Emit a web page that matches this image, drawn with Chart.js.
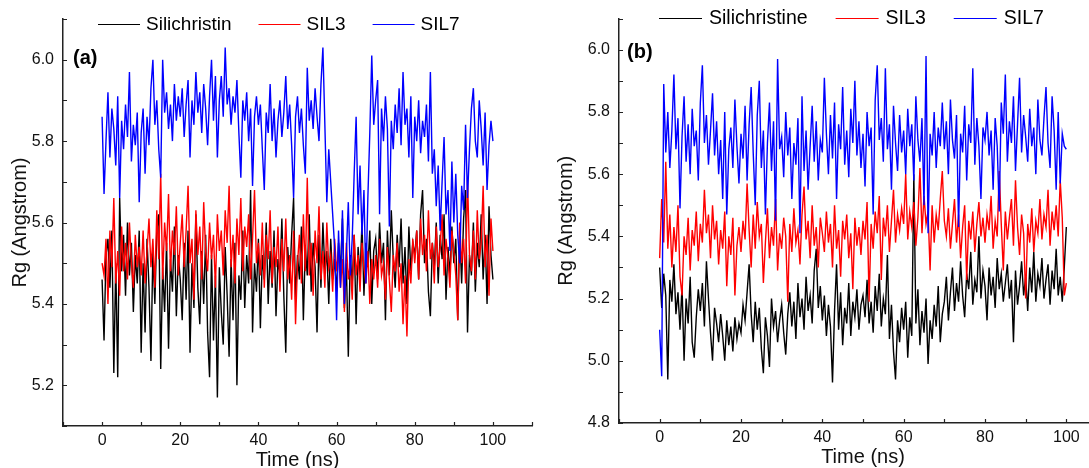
<!DOCTYPE html>
<html>
<head>
<meta charset="utf-8">
<script src="https://cdn.jsdelivr.net/npm/chart.js@4.4.1/dist/chart.umd.min.js"></script>
<style>
  html, body { margin: 0; padding: 0; background: #fff; }
  #wrap { position: relative; width: 1089px; height: 468px; overflow: hidden; }
  canvas { position: absolute; top: 0; }
</style>
</head>
<body>
<div id="wrap">
  <canvas id="chartA" width="545" height="480" style="left:0px"></canvas>
  <canvas id="chartB" width="580" height="480" style="left:545px"></canvas>
</div>
<script>
const silA = [
  5.46, 5.31, 5.52, 5.56, 5.44, 5.58, 5.23, 5.50, 5.22, 5.66, 5.48, 5.57, 5.42, 5.60, 5.47, 5.55, 5.38, 5.52, 5.45, 5.58,
  5.28, 5.50, 5.33, 5.56, 5.44, 5.26, 5.53, 5.40, 5.58, 5.62, 5.24, 5.49, 5.38, 5.55, 5.29, 5.51, 5.43, 5.59, 5.37, 5.52,
  5.46, 5.36, 5.55, 5.41, 5.58, 5.28, 5.50, 5.39, 5.62, 5.44, 5.35, 5.53, 5.40, 5.57, 5.33, 5.22, 5.52, 5.31, 5.47, 5.17,
  5.49, 5.38, 5.30, 5.54, 5.42, 5.27, 5.51, 5.36, 5.55, 5.20, 5.47, 5.41, 5.58, 5.39, 5.52, 5.45, 5.68, 5.33, 5.50, 5.43,
  5.56, 5.34, 5.52, 5.46, 5.60, 5.40, 5.53, 5.44, 5.58, 5.37, 5.51, 5.47, 5.61, 5.42, 5.28, 5.54, 5.45, 5.57, 5.66, 5.41,
  5.52, 5.46, 5.59, 5.36, 5.54, 5.47, 5.62, 5.43, 5.55, 5.49, 5.33, 5.57, 5.44, 5.60, 5.48, 5.53, 5.40, 5.56, 5.46, 5.51,
  5.43, 5.55, 5.48, 5.61, 5.39, 5.50, 5.27, 5.52, 5.45, 5.57, 5.35, 5.54, 5.47, 5.60, 5.42, 5.55, 5.49, 5.58, 5.40, 5.53,
  5.56, 5.46, 5.60, 5.50, 5.55, 5.36, 5.58, 5.47, 5.63, 5.51, 5.44, 5.57, 5.49, 5.61, 5.45, 5.54, 5.40, 5.59, 5.48, 5.55,
  5.52, 5.58, 5.46, 5.62, 5.68, 5.50, 5.56, 5.43, 5.37, 5.55, 5.49, 5.60, 5.45, 5.57, 5.51, 5.62, 5.41, 5.54, 5.47, 5.59,
  5.50, 5.56, 5.36, 5.58, 5.45, 5.61, 5.68, 5.33, 5.52, 5.47, 5.60, 5.43, 5.55, 5.49, 5.62, 5.46, 5.57, 5.40, 5.64, 5.52,
  5.46
];
const sil3A = [
  5.50, 5.47, 5.56, 5.40, 5.58, 5.49, 5.66, 5.45, 5.53, 5.42, 5.59, 5.48, 5.55, 5.46, 5.60, 5.50, 5.44, 5.57, 5.49, 5.54,
  5.47, 5.58, 5.45, 5.53, 5.61, 5.49, 5.56, 5.44, 5.63, 5.51, 5.72, 5.46, 5.60, 5.53, 5.67, 5.48, 5.58, 5.52, 5.64, 5.47,
  5.55, 5.62, 5.49, 5.58, 5.69, 5.50, 5.56, 5.41, 5.63, 5.52, 5.59, 5.46, 5.65, 5.53, 5.48, 5.60, 5.51, 5.57, 5.44, 5.62,
  5.53, 5.58, 5.47, 5.63, 5.55, 5.69, 5.49, 5.57, 5.45, 5.61, 5.52, 5.66, 5.48, 5.59, 5.54, 5.62, 5.46, 5.56, 5.68, 5.50,
  5.55, 5.47, 5.60, 5.44, 5.57, 5.51, 5.63, 5.45, 5.54, 5.49, 5.59, 5.43, 5.56, 5.48, 5.61, 5.46, 5.52, 5.41, 5.58, 5.35,
  5.50, 5.57, 5.45, 5.62, 5.48, 5.71, 5.47, 5.55, 5.42, 5.58, 5.50, 5.64, 5.46, 5.53, 5.44, 5.60, 5.49, 5.52, 5.43, 5.56,
  5.48, 5.53, 5.44, 5.51, 5.38, 5.55, 5.46, 5.50, 5.41, 5.57, 5.47, 5.52, 5.43, 5.55, 5.49, 5.45, 5.53, 5.40, 5.51, 5.46,
  5.52, 5.44, 5.56, 5.47, 5.50, 5.41, 5.54, 5.46, 5.38, 5.52, 5.48, 5.55, 5.43, 5.50, 5.35, 5.47, 5.32, 5.51, 5.45, 5.56,
  5.50, 5.58, 5.46, 5.61, 5.52, 5.57, 5.48, 5.63, 5.51, 5.55, 5.45, 5.59, 5.49, 5.54, 5.62, 5.47, 5.56, 5.51, 5.44, 5.58,
  5.53, 5.47, 5.36, 5.60, 5.50, 5.56, 5.45, 5.71, 5.52, 5.48, 5.58, 5.46, 5.63, 5.51, 5.55, 5.69, 5.49, 5.57, 5.42, 5.61,
  5.53
];
const sil7A = [
  5.86, 5.67, 5.80, 5.92, 5.76, 5.88, 5.83, 5.74, 5.91, 5.66, 5.85, 5.78, 5.89, 5.81, 5.97, 5.75, 5.84, 5.79, 5.87, 5.65,
  5.82, 5.88, 5.72, 5.86, 5.79, 5.93, 6.00, 5.84, 5.90, 5.78, 5.71, 6.00, 5.87, 5.92, 5.83, 5.89, 5.80, 5.94, 5.85, 5.91,
  5.86, 5.93, 5.81, 5.89, 5.95, 5.76, 5.90, 5.84, 5.97, 5.87, 5.92, 5.82, 5.94, 5.88, 5.79, 5.91, 6.00, 5.85, 5.96, 5.76,
  5.90, 5.96, 5.86, 6.03, 5.89, 5.93, 5.84, 5.91, 5.87, 5.95, 5.82, 5.71, 5.90, 5.85, 5.92, 5.80, 5.88, 5.69, 5.86, 5.91,
  5.84, 5.89, 5.78, 5.68, 5.87, 5.82, 5.94, 5.80, 5.88, 5.76, 5.85, 5.90, 5.81, 5.87, 5.96, 5.83, 5.89, 5.79, 5.66, 5.86,
  5.91, 5.82, 5.88, 5.79, 5.72, 5.98, 5.85, 5.90, 5.83, 5.93, 5.86, 5.80, 5.94, 6.03, 5.84, 5.65, 5.78, 5.70, 5.62, 5.54,
  5.36, 5.58, 5.44, 5.63, 5.40, 5.52, 5.65, 5.47, 5.56, 5.72, 5.86, 5.62, 5.74, 5.57, 5.68, 5.45, 5.66, 5.82, 6.01, 5.84,
  5.90, 5.95, 5.62, 5.88, 5.80, 5.91, 5.83, 5.59, 5.85, 5.78, 5.89, 5.82, 5.93, 5.79, 5.97, 5.84, 5.88, 5.76, 5.91, 5.66,
  5.86, 5.80, 5.90, 5.77, 5.85, 5.81, 5.89, 5.75, 5.97, 5.72, 5.78, 5.64, 5.74, 5.58, 5.70, 5.81, 5.62, 5.68, 5.53, 5.75,
  5.60, 5.72, 5.57, 5.50, 5.69, 5.63, 5.84, 5.66, 5.78, 5.88, 5.93, 5.80, 5.76, 5.90, 5.83, 5.74, 5.87, 5.68, 5.79, 5.85,
  5.80
];
const silB = [
  5.30, 5.17, 5.28, 5.21, 4.94, 5.26, 5.19, 5.31, 5.15, 5.22, 5.10, 5.24, 5.00, 5.20, 5.12, 5.27, 5.06, 5.01, 5.14, 5.23,
  5.16, 5.25, 5.11, 5.32, 5.20, 5.09, 5.00, 5.17, 5.12, 5.06, 5.15, 5.08, 5.00, 5.13, 5.05, 5.11, 5.03, 5.14, 5.07, 5.12,
  5.09, 5.18, 5.13, 5.22, 5.31, 5.15, 5.06, 5.19, 5.10, 5.17, 5.04, 4.96, 5.14, 5.08, 4.98, 5.20, 5.11, 5.16, 5.06, 5.13,
  5.18, 5.09, 5.02, 5.15, 5.22, 5.11, 5.19, 5.07, 5.25, 5.14, 5.20, 5.10, 5.27, 5.16, 5.21, 5.12, 5.29, 5.36, 5.17, 5.24,
  5.13, 5.21, 5.08, 5.18, 5.11, 4.93, 5.16, 5.31, 5.10, 5.22, 5.05, 5.17, 5.12, 5.25, 5.08, 5.19, 5.14, 5.23, 5.10, 5.18,
  5.21, 5.14, 5.26, 5.12, 5.19, 5.09, 5.24, 5.16, 5.28, 5.11, 5.20, 5.15, 5.34, 5.07, 5.18, 5.03, 4.94, 5.13, 5.06, 5.17,
  5.10, 5.19, 5.01, 5.14, 5.08, 5.60, 5.12, 5.23, 5.05, 5.16, 5.09, 5.20, 4.99, 5.13, 5.07, 5.18, 5.11, 5.24, 5.06, 5.15,
  5.19, 5.27, 5.13, 5.22, 5.30, 5.16, 5.25, 5.19, 5.32, 5.21, 5.14, 5.28, 5.23, 5.35, 5.18, 5.26, 5.22, 5.40, 5.20, 5.29,
  5.24, 5.13, 5.30, 5.21, 5.27, 5.17, 5.33, 5.23, 5.28, 5.19, 5.25, 5.31, 5.20, 5.26, 5.06, 5.29, 5.18, 5.24, 5.32, 5.21,
  5.27, 5.16, 5.30, 5.22, 5.35, 5.19, 5.28, 5.24, 5.33, 5.20, 5.26, 5.31, 5.18, 5.29, 5.23, 5.36, 5.21, 5.27, 5.19, 5.30,
  5.43
];
const sil3B = [
  5.33, 5.52, 5.38, 5.64, 5.36, 5.47, 5.30, 5.43, 5.35, 5.50, 5.27, 5.21, 5.40, 5.34, 5.46, 5.29, 5.42, 5.37, 5.48, 5.32,
  5.44, 5.38, 5.55, 5.41, 5.47, 5.33, 5.50, 5.39, 5.45, 5.31, 5.42, 5.36, 5.48, 5.24, 5.40, 5.34, 5.46, 5.21, 5.37, 5.43,
  5.35, 5.45, 5.39, 5.57, 5.42, 5.30, 5.47, 5.36, 5.51, 5.40, 5.44, 5.25, 5.38, 5.49, 5.33, 5.43, 5.37, 5.52, 5.29, 5.41,
  5.36, 5.46, 5.40, 5.19, 5.44, 5.35, 5.49, 5.38, 5.42, 5.31, 5.47, 5.56, 5.39, 5.45, 5.33, 5.50, 5.37, 5.43, 5.30, 5.46,
  5.41, 5.35, 5.48, 5.38, 5.44, 5.30, 5.50, 5.36, 5.42, 5.27, 5.45, 5.39, 5.47, 5.33, 5.41, 5.23, 5.46, 5.37, 5.43, 5.34,
  5.45, 5.39, 5.51, 5.19, 5.44, 5.36, 5.48, 5.41, 5.53, 5.26, 5.46, 5.40, 5.50, 5.35, 5.45, 5.55, 5.38, 5.47, 5.42, 5.49,
  5.44, 5.60, 5.39, 5.48, 5.43, 5.51, 5.37, 5.46, 5.62, 5.41, 5.53, 5.44, 5.48, 5.29, 5.50, 5.38, 5.47, 5.42, 5.52, 5.61,
  5.45, 5.40, 5.49, 5.36, 5.44, 5.52, 5.38, 5.47, 5.33, 5.43, 5.50, 5.26, 5.45, 5.39, 5.48, 5.35, 5.44, 5.51, 5.40, 5.46,
  5.38, 5.47, 5.42, 5.53, 5.36, 5.45, 5.40, 5.61, 5.44, 5.29, 5.48, 5.39, 5.46, 5.52, 5.37, 5.58, 5.43, 5.34, 5.47, 5.41,
  5.20, 5.44, 5.38, 5.49, 5.35, 5.45, 5.41, 5.52, 5.39, 5.47, 5.43, 5.55, 5.37, 5.48, 5.42, 5.50, 5.40, 5.58, 5.46, 5.21,
  5.25
];
const sil7B = [
  5.10, 4.95, 5.89, 5.67, 5.80, 5.62, 5.74, 5.92, 5.68, 5.78, 5.49, 5.72, 5.85, 5.64, 5.76, 5.60, 5.81, 5.69, 5.74, 5.58,
  5.83, 5.95, 5.70, 5.79, 5.63, 5.74, 5.86, 5.66, 5.77, 5.60, 5.71, 5.52, 5.80, 5.47, 5.68, 5.75, 5.62, 5.84, 5.69, 5.57,
  5.73, 5.65, 5.82, 5.58, 5.76, 5.88, 5.67, 5.50, 5.79, 5.90, 5.62, 5.74, 5.47, 5.70, 5.83, 5.61, 5.77, 5.45, 5.97, 5.68,
  5.72, 5.59, 5.80, 5.66, 5.75, 5.52, 5.70, 5.63, 5.78, 5.41, 5.85, 5.61, 5.74, 5.55, 5.69, 5.82, 5.64, 5.77, 5.58, 5.71,
  5.67, 5.91, 5.73, 5.60, 5.79, 5.65, 5.83, 5.52, 5.76, 5.68, 5.88, 5.63, 5.74, 5.59, 5.81, 5.70, 5.90, 5.66, 5.77, 5.62,
  5.73, 5.56, 5.80, 5.69, 5.75, 5.47, 5.84, 5.95, 5.71, 5.78, 5.64, 5.94, 5.68, 5.76, 5.55, 5.82, 5.70, 5.61, 5.79, 5.67,
  5.74, 5.60, 5.81, 5.69, 5.76, 5.58, 5.85, 5.71, 5.64, 5.78, 5.50, 5.98, 5.41, 5.73, 5.66, 5.80, 5.62, 5.75, 5.69, 5.83,
  5.68, 5.77, 5.60, 5.84, 5.71, 5.65, 5.79, 5.43, 5.73, 5.67, 5.82, 5.58, 5.76, 5.70, 5.94, 5.63, 5.78, 5.69, 5.52, 5.75,
  5.71, 5.80, 5.66, 5.74, 5.55, 5.78, 5.69, 5.48, 5.83, 5.73, 5.92, 5.64, 5.77, 5.70, 5.85, 5.61, 5.76, 5.91, 5.67, 5.79,
  5.72, 5.64, 5.81, 5.69, 5.75, 5.60, 5.84, 5.71, 5.66, 5.78, 5.88, 5.70, 5.62, 5.85, 5.74, 5.55, 5.80, 5.57, 5.73, 5.69,
  5.68
];

// snapshot times (ns), one per stored value
const timeNs = silA.map((v, i) => i * 0.5);
const xTickLabels = [0, 20, 40, 60, 80, 100];
const yTickLabelsA = [5.2, 5.4, 5.6, 5.8, 6.0];
const yTickLabelsB = [4.8, 5.0, 5.2, 5.4, 5.6, 5.8, 6.0];

const FONT = 'Liberation Sans, Arial, sans-serif';
Chart.defaults.font.family = FONT;
Chart.defaults.color = '#111';

// inward tick marks, in-plot legend and panel letter
const decorPlugin = {
  id: 'decor',
  afterDraw(chart, args, opts) {
    const ctx = chart.ctx;
    const xs = chart.scales.x;
    const ys = chart.scales.y;
    ctx.save();
    ctx.strokeStyle = '#222';
    ctx.lineWidth = 1.2;
    ctx.beginPath();
    xs.ticks.forEach(t => {
      const px = Math.round(xs.getPixelForValue(t.value)) + 0.5;
      ctx.moveTo(px, xs.top);
      ctx.lineTo(px, xs.top - 4);
    });
    ys.ticks.forEach(t => {
      const py = Math.round(ys.getPixelForValue(t.value)) + 0.5;
      ctx.moveTo(ys.right, py);
      ctx.lineTo(ys.right + 4, py);
    });
    ctx.stroke();

    ctx.font = opts.legendSize + 'px ' + FONT;
    ctx.textBaseline = 'middle';
    ctx.textAlign = 'left';
    let cx = opts.legendX;
    chart.data.datasets.forEach(ds => {
      ctx.strokeStyle = ds.borderColor;
      ctx.lineWidth = 1;
      ctx.beginPath();
      ctx.moveTo(cx, opts.legendY + 0.5);
      ctx.lineTo(cx + opts.lineLen, opts.legendY + 0.5);
      ctx.stroke();
      cx += opts.lineLen + opts.textGap;
      ctx.fillStyle = '#000';
      ctx.fillText(ds.label, cx, opts.legendY + 1);
      cx += ctx.measureText(ds.label).width + opts.itemGap;
    });

    ctx.font = 'bold 20px ' + FONT;
    ctx.fillStyle = '#000';
    ctx.fillText(opts.panel, opts.panelX, opts.panelY);
    ctx.restore();
  }
};

function makeChart(id, series, names, yMin, yMax, yLabels, cfg) {
  const colors = ['#000000', '#ff0000', '#0000ff'];
  const datasets = series.map((s, k) => ({
    label: names[k],
    data: s.map((v, i) => ({ x: timeNs[i], y: v })),
    borderColor: colors[k],
    borderWidth: 1.4,
    pointRadius: 0,
    tension: 0,
    order: 2 - k
  }));

  return new Chart(document.getElementById(id), {
    type: 'line',
    data: { datasets: datasets },
    options: {
      responsive: false,
      animation: false,
      events: [],
      layout: { padding: { left: 0, top: cfg.top, right: cfg.right, bottom: 0 } },
      plugins: {
        legend: { display: false },
        tooltip: { enabled: false },
        decor: cfg.decor
      },
      scales: {
        x: {
          type: 'linear',
          min: -10,
          max: 110,
          afterFit: s => { s.height = cfg.xHeight; },
          grid: { display: false, drawTicks: false },
          border: { display: true, color: '#222', width: 1.5 },
          ticks: {
            stepSize: 10,
            padding: 5,
            autoSkip: false,
            maxRotation: 0,
            font: { size: 16 },
            callback: v => xTickLabels.includes(Math.round(v)) ? String(Math.round(v)) : ''
          },
          title: { display: true, text: 'Time (ns)', font: { size: 20 }, padding: { top: 0, bottom: cfg.xTitlePad } }
        },
        y: {
          min: yMin,
          max: yMax,
          afterFit: s => { s.width = cfg.yWidth; },
          grid: { display: false, drawTicks: false },
          border: { display: true, color: '#222', width: 1.5 },
          ticks: {
            stepSize: 0.1,
            padding: 9,
            autoSkip: false,
            font: { size: 16 },
            callback: v => yLabels.some(l => Math.abs(l - v) < 1e-6) ? v.toFixed(1) : ''
          },
          title: { display: true, text: 'Rg (Angstrom)', font: { size: 20 }, padding: { top: cfg.yTitlePad, bottom: 0 } }
        }
      }
    },
    plugins: [decorPlugin]
  });
}

makeChart('chartA', [silA, sil3A, sil7A], ['Silichristin', 'SIL3', 'SIL7'], 5.1, 6.1, yTickLabelsA, {
  top: 19, right: 13, xHeight: 54, yWidth: 63, xTitlePad: 8, yTitlePad: 8,
  decor: { legendX: 98, legendY: 24, lineLen: 42, textGap: 6, itemGap: 27, legendSize: 19, panel: '(a)', panelX: 73, panelY: 58 }
});

makeChart('chartB', [silB, sil3B, sil7B], ['Silichristine', 'SIL3', 'SIL7'], 4.8, 6.1, yTickLabelsB, {
  top: 16, right: 18, xHeight: 57, yWidth: 74, xTitlePad: 11, yTitlePad: 9,
  decor: { legendX: 114, legendY: 18, lineLen: 43, textGap: 7, itemGap: 28, legendSize: 19.5, panel: '(b)', panelX: 82, panelY: 52 }
});
</script>
</body>
</html>
